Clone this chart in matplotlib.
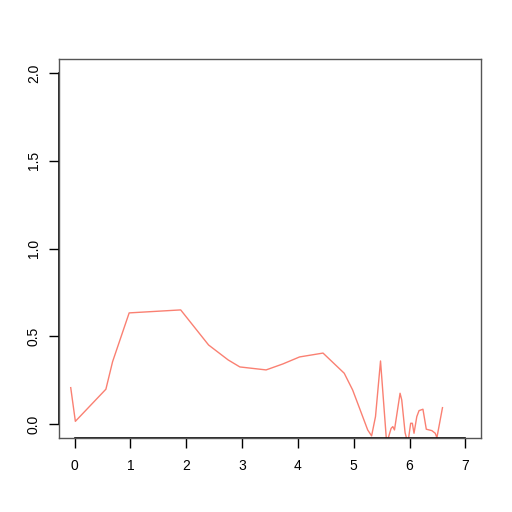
import matplotlib
matplotlib.use("Agg")
import matplotlib.pyplot as plt
from matplotlib.lines import Line2D

plt.rcParams['font.family'] = ['Liberation Sans', 'DejaVu Sans']

x_vals = [-0.07, 0.013, 0.56, 0.68, 0.977, 1.90, 2.40, 2.75, 2.96, 3.43, 3.73, 4.03, 4.45,
          4.83, 4.98, 5.10, 5.25, 5.32, 5.39, 5.48, 5.59, 5.67, 5.70, 5.73, 5.83, 5.86,
          5.92, 5.97, 6.02, 6.05, 6.08, 6.13, 6.17, 6.24, 6.30, 6.40, 6.46, 6.49, 6.59]
y_vals = [0.207, 0.015, 0.198, 0.355, 0.633, 0.650, 0.45, 0.365, 0.325, 0.308, 0.342, 0.382, 0.404,
          0.289, 0.194, 0.093, -0.034, -0.068, 0.042, 0.359, -0.11, -0.025, -0.015, -0.034, 0.175, 0.137,
          -0.05, -0.11, 0.004, 0.004, -0.053, 0.042, 0.076, 0.084, -0.030, -0.038, -0.053, -0.078, 0.093]

x_ticks = [0, 1, 2, 3, 4, 5, 6, 7]
y_ticks = [0.0, 0.5, 1.0, 1.5, 2.0]
y_tick_labels = ["0.0", "0.5", "1.0", "1.5", "2.0"]

fig = plt.figure(figsize=(5.12, 5.12), dpi=100)
ax = fig.add_axes([59/512, (512-438)/512, (481-59)/512, (438-59)/512])

ax.plot(x_vals, y_vals, color='#FA8072', lw=1.0, clip_on=True)

ax.set_xlim(-0.28, 7.28)
ax.set_ylim(-0.08, 2.08)

for s in ax.spines.values():
    s.set_color('#555555')
    s.set_linewidth(1.0)

ax.set_xticks(x_ticks)
ax.set_xticklabels([str(t) for t in x_ticks])
ax.set_yticks(y_ticks)
ax.set_yticklabels(y_tick_labels, rotation=90, va='center')
ax.tick_params(direction='out', length=7, width=1.0, color='black', labelsize=10)
ax.tick_params(axis='x', pad=8)
ax.tick_params(axis='y', pad=6)

# R-style axis lines from first to last tick
ax.add_line(Line2D([x_ticks[0], x_ticks[-1]], [0, 0], transform=ax.get_xaxis_transform(),
                   color='black', lw=1.2, clip_on=False))
ax.add_line(Line2D([0, 0], [y_ticks[0], y_ticks[-1]], transform=ax.get_yaxis_transform(),
                   color='black', lw=1.2, clip_on=False))

fig.savefig('out.png', dpi=100)
